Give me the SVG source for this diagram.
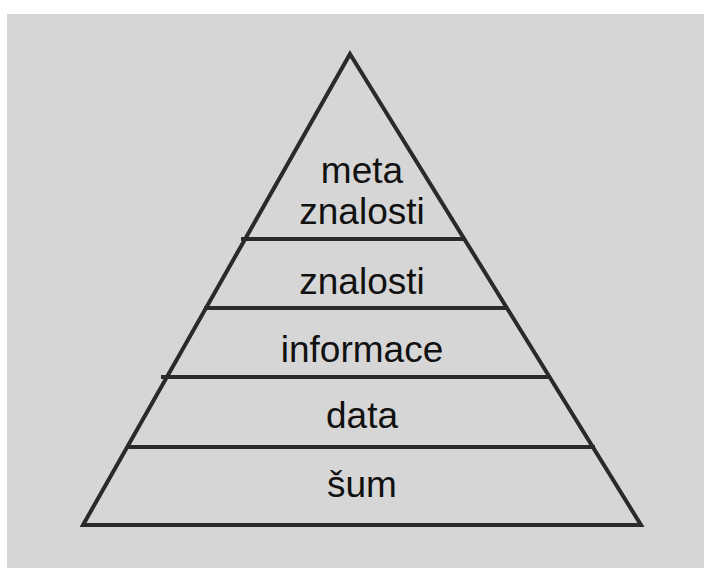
<svg xmlns="http://www.w3.org/2000/svg" width="704" height="568" viewBox="0 0 704 568">
<style>
.ln{stroke:#2a2a2a;stroke-width:4;fill:none;stroke-linejoin:miter}
.t{font-family:"Liberation Sans",Arial,sans-serif;font-size:37px;fill:#111;text-anchor:middle}
</style>
<rect x="0" y="0" width="704" height="568" fill="#ffffff"/>
<rect x="7" y="14" width="697" height="554" fill="#d6d6d6"/>
<g id="pyramid">
<polygon class="ln" points="350,54 641,525 83,525"/>
</g>
<g id="connectors">
<line class="ln" x1="241" y1="239" x2="465" y2="239"/>
<line class="ln" x1="204" y1="308" x2="507" y2="308"/>
<line class="ln" x1="161" y1="377" x2="550" y2="377"/>
<line class="ln" x1="128" y1="447" x2="595" y2="447"/>
</g>
<g id="meta"><text class="t" x="362" y="183">meta</text><text class="t" x="362" y="224">znalosti</text></g>
<g id="znalosti"><text class="t" x="362" y="294">znalosti</text></g>
<g id="informace"><text class="t" x="362" y="362">informace</text></g>
<g id="data"><text class="t" x="362" y="428">data</text></g>
<g id="sum"><text class="t" x="362" y="497">šum</text></g>
</svg>
